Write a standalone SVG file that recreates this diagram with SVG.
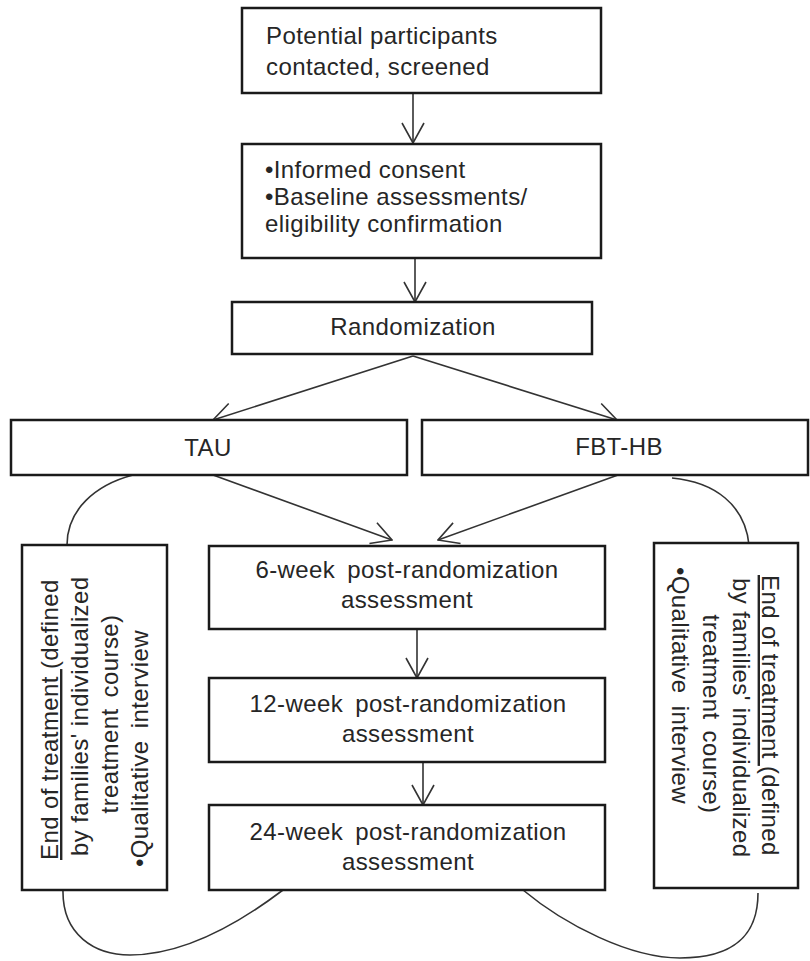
<svg xmlns="http://www.w3.org/2000/svg" width="810" height="961" viewBox="0 0 810 961">
<defs>
<style>
.box{fill:#fff;stroke:#1a1a1a;stroke-width:2.5}
.t{font-family:"Liberation Sans",Arial,sans-serif;font-size:24px;fill:#262626;letter-spacing:0.4px}
.m{text-anchor:middle}
.c{fill:none;stroke:#333;stroke-width:1.6}
.u{text-decoration:underline}
</style>
<marker id="ah" viewBox="-1 -12 22 24" refX="20" refY="0" markerWidth="22" markerHeight="24" markerUnits="userSpaceOnUse" orient="auto">
<path d="M0,-11 L20,0 L0,11" fill="none" stroke="#333" stroke-width="1.6"/>
</marker>
</defs>
<rect width="810" height="961" fill="#fff"/>
<g id="connectors">
<line class="c" x1="413" y1="93" x2="413" y2="143" marker-end="url(#ah)"/>
<line class="c" x1="415" y1="258" x2="415" y2="302" marker-end="url(#ah)"/>
<line class="c" x1="413" y1="356" x2="213" y2="420" marker-end="url(#ah)"/>
<line class="c" x1="413" y1="356" x2="617" y2="420" marker-end="url(#ah)"/>
<line class="c" x1="213" y1="475" x2="392" y2="540" marker-end="url(#ah)"/>
<line class="c" x1="618" y1="475" x2="438" y2="540" marker-end="url(#ah)"/>
<line class="c" x1="417" y1="629" x2="417" y2="678" marker-end="url(#ah)"/>
<line class="c" x1="423" y1="762" x2="423" y2="805" marker-end="url(#ah)"/>
<path class="c" d="M133,475 C95,485 67,510 67,545"/>
<path class="c" d="M672,478 C715,482 745,505 749,545"/>
<path class="c" d="M63,890 C62,935 95,955 130,955 C190,955 250,915 283,890"/>
<path class="c" d="M523,890 C565,925 630,958 680,958 C740,958 758,930 758,893"/>
</g>
<g id="n1">
<rect class="box" x="242" y="8" width="359" height="85"/>
<text class="t" x="266" y="44">Potential participants</text>
<text class="t" x="266" y="75">contacted, screened</text>
</g>
<g id="n2">
<rect class="box" x="242" y="144" width="359" height="114"/>
<text class="t" x="265" y="178">•Informed consent</text>
<text class="t" x="265" y="205">•Baseline assessments/</text>
<text class="t" x="265" y="232">eligibility confirmation</text>
</g>
<g id="n3">
<rect class="box" x="232" y="302" width="360" height="52"/>
<text class="t m" x="413" y="335">Randomization</text>
</g>
<g id="n4">
<rect class="box" x="11" y="420" width="396" height="55"/>
<text class="t m" x="208" y="456">TAU</text>
</g>
<g id="n5">
<rect class="box" x="422" y="420" width="386" height="55"/>
<text class="t m" x="619" y="455">FBT-HB</text>
</g>
<g id="n6">
<rect class="box" x="209" y="546" width="396" height="83"/>
<text class="t m" x="407" y="578" word-spacing="5">6-week post-randomization</text>
<text class="t m" x="407" y="608">assessment</text>
</g>
<g id="n7">
<rect class="box" x="209" y="678" width="396" height="84"/>
<text class="t m" x="408" y="712" word-spacing="5">12-week post-randomization</text>
<text class="t m" x="408" y="742">assessment</text>
</g>
<g id="n8">
<rect class="box" x="209" y="805" width="396" height="85"/>
<text class="t m" x="408" y="840" word-spacing="5">24-week post-randomization</text>
<text class="t m" x="408" y="870">assessment</text>
</g>
<g id="n9">
<rect class="box" x="22" y="545" width="145" height="345"/>
<text class="t" transform="translate(58,860) rotate(-90)"><tspan class="u">End of treatment </tspan>(defined</text>
<text class="t" transform="translate(88,856) rotate(-90)">by families' individualized</text>
<text class="t m" transform="translate(118,714) rotate(-90)" word-spacing="4">treatment course)</text>
<text class="t" transform="translate(148,867) rotate(-90)" word-spacing="5">•Qualitative interview</text>
</g>
<g id="n10">
<rect class="box" x="654" y="543" width="144" height="345"/>
<text class="t" transform="translate(762,575) rotate(90)"><tspan class="u">End of treatment </tspan>(defined</text>
<text class="t" transform="translate(733,578) rotate(90)">by families' individualized</text>
<text class="t m" transform="translate(703,714) rotate(90)" word-spacing="4">treatment course)</text>
<text class="t" transform="translate(672,567) rotate(90)" word-spacing="5">•Qualitative interview</text>
</g>
</svg>
